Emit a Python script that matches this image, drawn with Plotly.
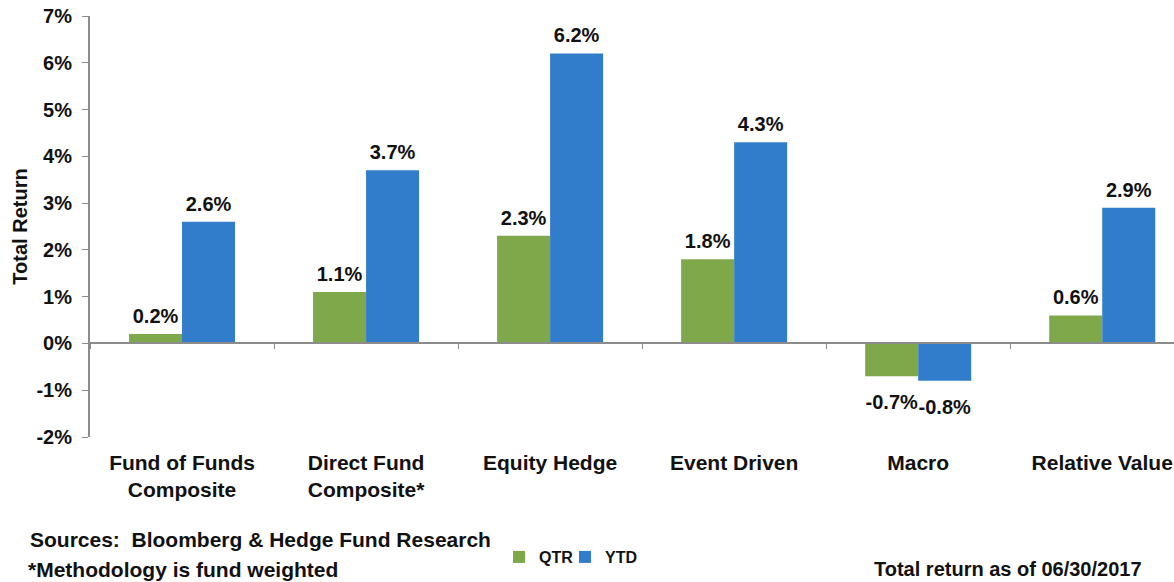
import plotly.graph_objects as go

categories = ["Fund of Funds<br>Composite", "Direct Fund<br>Composite*", "Equity Hedge",
              "Event Driven", "Macro", "Relative Value"]
qtr = [0.2, 1.1, 2.3, 1.8, -0.7, 0.6]
ytd = [2.6, 3.7, 6.2, 4.3, -0.8, 2.9]
tick_vals = [-2, -1, 0, 1, 2, 3, 4, 5, 6, 7]
tick_text = [f"{v}%" for v in tick_vals]

GREEN = "#7EA84A"
BLUE = "#327CCC"
FONT = "Liberation Sans, Arial, sans-serif"
INK = "#111111"
lbl = dict(family=FONT, size=20, color=INK, weight="bold")
note = dict(family=FONT, size=21, color=INK, weight="bold")
GAP = 0.424

fig = go.Figure()
for name, vals, color, leg in [("QTR", qtr, GREEN, "legend"), ("YTD", ytd, BLUE, "legend2")]:
    fig.add_bar(x=categories, y=vals, name=name, offsetgroup=name, legend=leg,
                marker=dict(color=color, line=dict(width=0)))
for name, vals in [("QTR", qtr), ("YTD", ytd)]:
    fig.add_scatter(x=categories, y=vals, offsetgroup=name, mode="markers+text",
                    text=[f"{v:.1f}%" for v in vals],
                    textposition=["top center" if v >= 0 else "bottom center" for v in vals],
                    marker=dict(size=[8 if v >= 0 else 27 for v in vals], opacity=0),
                    textfont=lbl, showlegend=False, hoverinfo="skip", cliponaxis=False)
# helper trace for the zero-positioned category axis
fig.add_scatter(x=categories, y=[0]*len(categories), xaxis="x2", mode="markers",
                marker=dict(opacity=0), showlegend=False, hoverinfo="skip")

zero_pos = (0 - (-2)) / (7 - (-2))
leg_font = dict(family=FONT, size=16, color=INK, weight="bold")

fig.update_layout(
    width=1174, height=582,
    margin=dict(l=90, r=0, t=16, b=145, autoexpand=False),
    paper_bgcolor="white", plot_bgcolor="white",
    barmode="group", bargap=GAP, bargroupgap=0,
    scattermode="group", scattergap=GAP,
    font=dict(family=FONT, size=20, color=INK, weight="bold"),
    xaxis=dict(range=[-0.5, 5.39], showline=False, ticks="", showgrid=False,
               tickfont=dict(family=FONT, size=21, color=INK, weight="bold"),
               ticklabelstandoff=11),
    xaxis2=dict(overlaying="x", matches="x", anchor="free", position=zero_pos,
                showline=True, linecolor="#8c8c8c", linewidth=2, ticks="outside",
                tickson="boundaries", ticklen=5, tickwidth=1, tickcolor="#8c8c8c",
                showticklabels=False, showgrid=False),
    yaxis=dict(range=[-2, 7], tickvals=tick_vals, ticktext=tick_text, showgrid=False,
               zeroline=False, showline=True, linecolor="#8c8c8c", linewidth=2,
               ticks="outside", ticklen=6, tickcolor="#8c8c8c", tickfont=lbl,
               ticklabelstandoff=6,
               title=dict(text="Total Return", font=dict(family=FONT, size=20, weight="bold"),
                          standoff=3)),
    legend=dict(orientation="h", x=(499 - 90) / 1084, y=(437 - 557) / 421,
                xanchor="left", yanchor="middle", font=leg_font, itemwidth=30,
                bgcolor="rgba(0,0,0,0)"),
    legend2=dict(orientation="h", x=(565 - 90) / 1084, y=(437 - 557) / 421,
                 xanchor="left", yanchor="middle", font=leg_font, itemwidth=30,
                 bgcolor="rgba(0,0,0,0)"),
    showlegend=True,
)

fig.add_annotation(text="Sources:  Bloomberg & Hedge Fund Research", xref="paper", yref="paper",
                   x=(28 - 90) / 1084, y=(437 - 539) / 421, xanchor="left", yanchor="middle",
                   showarrow=False, font=note)
fig.add_annotation(text="*Methodology is fund weighted", xref="paper", yref="paper",
                   x=(26 - 90) / 1084, y=(437 - 569) / 421, xanchor="left", yanchor="middle",
                   showarrow=False, font=note)
fig.add_annotation(text="Total return as of 06/30/2017", xref="paper", yref="paper",
                   x=(1144 - 90) / 1084, y=(437 - 569) / 421, xanchor="right", yanchor="middle",
                   showarrow=False, font=lbl)

fig.write_html("out.html", config={"displayModeBar": False},
               post_script="document.body.style.margin='0';")
